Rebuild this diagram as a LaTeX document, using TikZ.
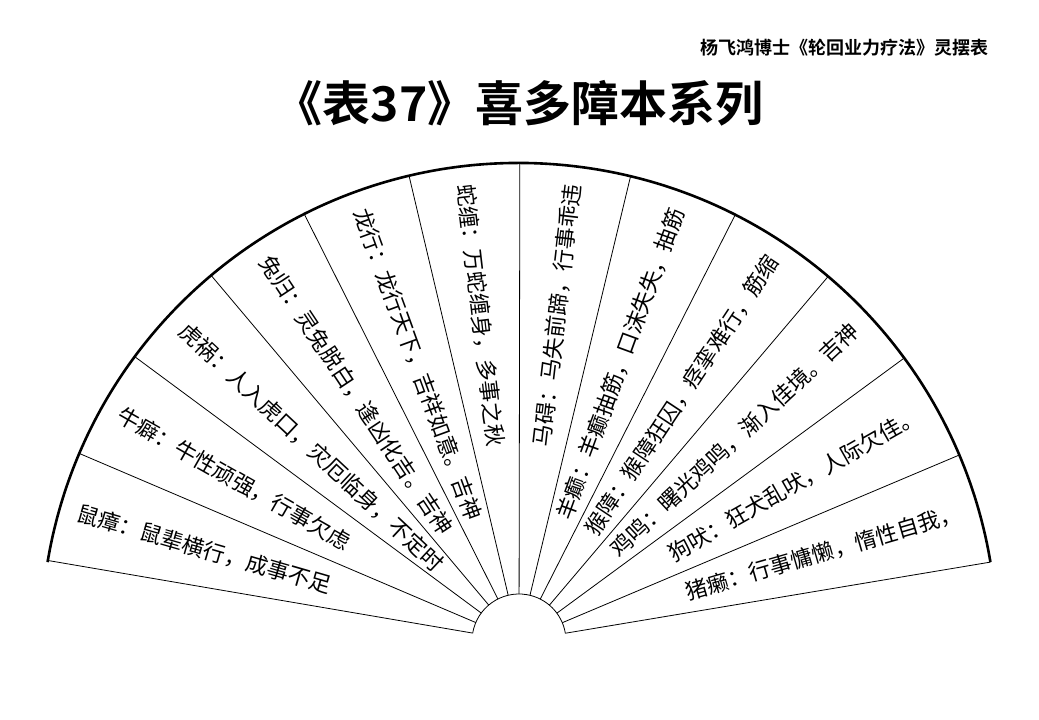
\documentclass[tikz,border=0pt]{standalone}
\usepackage{fontspec}
\setmainfont{Noto Sans CJK SC}
\newfontfamily\cjkbold{Noto Sans CJK SC}[BoldFont={Noto Sans CJK SC Bold}]
\tikzset{
  rib/.style={black,line width=0.8pt},
  rim/.style={black,line width=2.6pt},
  omen/.style={inner sep=0pt,font=\fontsize{22}{22}\selectfont},
}
\begin{document}
\begin{tikzpicture}[x=1pt,y=1pt]
	\useasboundingbox (0,0) rectangle (1039,720);
	%HEADINGS
	\node[anchor=east,font=\cjkbold\bfseries\fontsize{18}{18}\selectfont] (series) at (992,672) {杨飞鸿博士《轮回业力疗法》灵摆表};
	\node[font=\cjkbold\bfseries\fontsize{48}{48}\selectfont] (title) at (519,617) {《表37》喜多障本系列};
	
	%FAN
	\coordinate (hub) at (519,79);
	\draw[rim] ([shift={(170.5:478)}]hub) arc (170.5:9.5:478);
	\draw[rib] ([shift={(170.5:47)}]hub) arc (170.5:9.5:47);
	\foreach \a in {9.5,22.9,...,171}
		\draw[rib] ([shift={(\a:47)}]hub) -- ([shift={(\a:478)}]hub);
	
	%LEFT TEXTS
	\foreach \i/\t in {1/鼠瘴：鼠辈横行，成事不足, 2/牛癖：牛性顽强，行事欠虑,
		3/虎祸：人入虎口，灾厄临身，不定时, 4/兔归：灵兔脱白，逢凶化吉。吉神,
		5/龙行：龙行天下，吉祥如意。吉神, 6/蛇缠：万蛇缠身，多事之秋}
		\node[omen,anchor=west,rotate=170.5-13.42*\i+6.71-180] (left\i)
			at ([shift={(170.5-13.42*\i+6.71:460)}]hub) {\t};
	
	%RIGHT TEXTS
	\foreach \i/\t in {1/猪癞：行事慵懒，惰性自我，, 2/狗吠：狂犬乱吠，人际欠佳。,
		3/鸡鸣：曙光鸡鸣，渐入佳境。吉神, 4/猴障：猴障狂囚，痉挛难行，筋缩,
		5/羊癫：羊癫抽筋，口沫失失，抽筋, 6/马碍：马失前蹄，行事乖违}
		\node[omen,anchor=east,rotate=9.5+13.42*\i-6.71] (right\i)
			at ([shift={(9.5+13.42*\i-6.71:460)}]hub) {\t};
\end{tikzpicture}
\end{document}
